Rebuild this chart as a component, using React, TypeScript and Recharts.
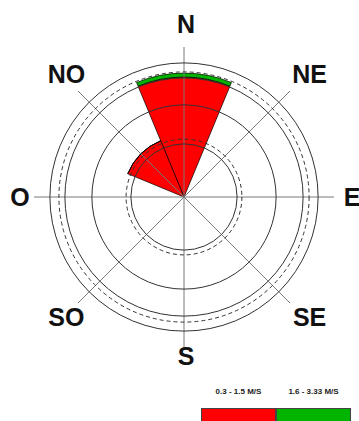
import React from "react";
import {
  RadialBarChart,
  RadialBar,
  PolarAngleAxis,
  PolarRadiusAxis,
  PolarGrid,
  Legend,
} from "recharts";

// directions clockwise from north
const DIRECTIONS = ["N", "NE", "E", "SE", "S", "SO", "O", "NO"];
// frequency per direction, by speed class
const LOW = [40, 0, 0, 0, 0, 0, 0, 20.3]; // 0.3 - 1.5 M/S
const HIGH = [1.3, 0, 0, 0, 0, 0, 0, 0]; // 1.6 - 3.33 M/S
const SERIES = [
  { key: "low", name: "0.3 - 1.5 M/S", color: "#ff0000" },
  { key: "high", name: "1.6 - 3.33 M/S", color: "#00b400" },
];
const RING_SOLID = [17.7, 30.7, 39.7, 44.7];
const RING_DASHED = [19.3, 41.7];
const RADIAL_ANGLES = [0, 45, 90, 135, 180, 225, 270, 315];
const R_MAX = 50;

const CX = 184;
const CY = 197;
const OUTER = 150;
const BAND = 360 / DIRECTIONS.length;

const px = (v: number) => (v / R_MAX) * OUTER;

const data = DIRECTIONS.map((d, i) => ({ dir: d, low: LOW[i], high: HIGH[i] }));

function DirTick(props: any) {
  const { payload } = props;
  // tick coordinate is the band edge, put the label in the middle of the band
  const a = ((payload.coordinate + BAND / 2) * Math.PI) / 180;
  const diag = payload.value.length > 1;
  const r = diag ? 172 : 166;
  const x = CX + r * Math.cos(a) + (diag ? 4 : 2);
  const y = CY - r * Math.sin(a) + (diag ? -1.5 : -7 * Math.abs(Math.sin(a)));
  return (
    <text
      x={x}
      y={y}
      textAnchor="middle"
      dominantBaseline="central"
      fontSize={25}
      fontWeight={700}
      fill="#111"
      fontFamily="'Liberation Sans', Arial, sans-serif"
    >
      {payload.value}
    </text>
  );
}

function RoseLegend() {
  return (
    <div style={{ display: "flex", fontFamily: "'Liberation Sans', Arial, sans-serif" }}>
      {SERIES.map((s) => (
        <div key={s.key} style={{ width: 75, textAlign: "center" }}>
          <div style={{ fontSize: 8, fontWeight: 700, color: "#222", height: 24, lineHeight: "16px" }}>
            {s.name}
          </div>
          <div style={{ height: 16, background: s.color, border: "1px solid #444", boxSizing: "border-box" }} />
        </div>
      ))}
    </div>
  );
}

export default function App() {
  return (
    <div style={{ position: "absolute", left: 0, top: 0, width: 359, height: 421, background: "#fff", overflow: "hidden" }}>
      <RadialBarChart
        width={359}
        height={421}
        data={data}
        layout="centric"
        cx={CX}
        cy={CY}
        innerRadius={0}
        outerRadius={OUTER}
        startAngle={90 - BAND / 2}
        endAngle={90 - BAND / 2 - 360}
        barCategoryGap={0}
        barGap={0}
        margin={{ top: 0, right: 0, bottom: 0, left: 0 }}
      >
        <PolarAngleAxis type="category" dataKey="dir" tick={<DirTick />} tickLine={false} axisLine={false} />
        <PolarRadiusAxis type="number" domain={[0, R_MAX]} tick={false} axisLine={false} />
        {SERIES.map((s) => (
          <RadialBar
            key={s.key}
            dataKey={s.key}
            name={s.name}
            stackId="a"
            fill={s.color}
            stroke="#000"
            strokeWidth={0.7}
            isAnimationActive={false}
          />
        ))}
        {/* grid goes on top of the sectors, as in the original rose */}
        <PolarGrid
          gridType="circle"
          polarAngles={RADIAL_ANGLES}
          polarRadius={[]}
          stroke="#7a7a7a"
          strokeWidth={1}
          zIndex={900}
        />
        <PolarGrid
          gridType="circle"
          radialLines={false}
          polarAngles={RADIAL_ANGLES}
          polarRadius={RING_SOLID.map(px)}
          stroke="#333"
          strokeWidth={1}
          zIndex={900}
        />
        <PolarGrid
          gridType="circle"
          radialLines={false}
          polarAngles={RADIAL_ANGLES}
          polarRadius={RING_DASHED.map(px)}
          stroke="#333"
          strokeWidth={1}
          strokeDasharray="4 3"
          zIndex={900}
        />
        <Legend
          content={<RoseLegend />}
          wrapperStyle={{ position: "absolute", left: 201, top: 384, width: 150 }}
        />
      </RadialBarChart>
    </div>
  );
}
